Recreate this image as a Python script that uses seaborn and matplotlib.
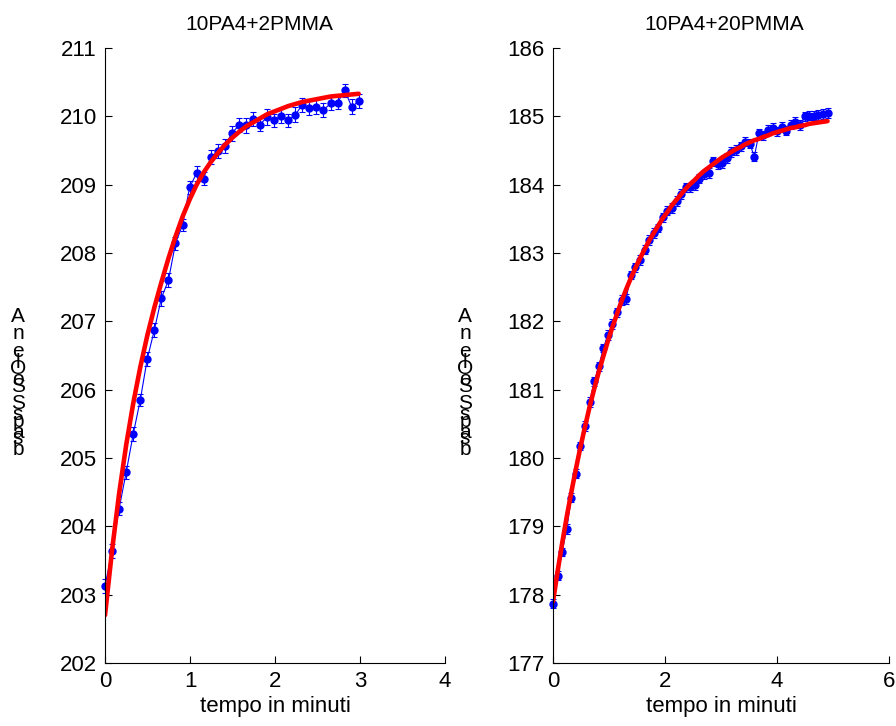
import matplotlib
matplotlib.use("Agg")
import matplotlib.pyplot as plt
import seaborn as sns

# dati: 10PA4+2PMMA
t_2pmma = [0.000, 0.083, 0.166, 0.249, 0.332, 0.415, 0.497, 0.580, 0.663, 0.746,
           0.829, 0.912, 0.995, 1.078, 1.161, 1.244, 1.326, 1.409, 1.492, 1.575,
           1.658, 1.741, 1.824, 1.907, 1.990, 2.073, 2.155, 2.238, 2.321, 2.404,
           2.487, 2.570, 2.653, 2.736, 2.819, 2.902, 2.984]
y_2pmma = [203.13, 203.64, 204.26, 204.79, 205.35, 205.85, 206.45, 206.87, 207.34, 207.60,
           208.14, 208.41, 208.96, 209.17, 209.09, 209.40, 209.49, 209.57, 209.75, 209.87,
           209.87, 209.96, 209.88, 209.99, 209.94, 210.01, 209.94, 210.02, 210.17, 210.12,
           210.14, 210.09, 210.19, 210.20, 210.38, 210.14, 210.22]
err_2pmma = [0.10, 0.10, 0.09, 0.10, 0.10, 0.09, 0.10, 0.10, 0.11, 0.10,
             0.10, 0.09, 0.10, 0.11, 0.10, 0.10, 0.10, 0.10, 0.11, 0.10,
             0.11, 0.10, 0.10, 0.11, 0.10, 0.11, 0.10, 0.11, 0.10, 0.10,
             0.11, 0.10, 0.10, 0.10, 0.10, 0.11, 0.10]
fit_2pmma = [202.70, 203.65, 204.48, 205.19, 205.80, 206.33, 206.79, 207.20, 207.57, 207.92,
             208.24, 208.53, 208.78, 209.00, 209.18, 209.33, 209.46, 209.58, 209.68, 209.77,
             209.85, 209.91, 209.97, 210.03, 210.07, 210.11, 210.15, 210.18, 210.21, 210.23,
             210.25, 210.27, 210.29, 210.30, 210.31, 210.32, 210.33]

# dati: 10PA4+20PMMA
t_20pmma = [0.000, 0.082, 0.163, 0.245, 0.327, 0.409, 0.490, 0.572, 0.654, 0.735,
            0.817, 0.899, 0.980, 1.062, 1.144, 1.226, 1.307, 1.389, 1.471, 1.552,
            1.634, 1.716, 1.797, 1.879, 1.961, 2.043, 2.124, 2.206, 2.288, 2.369,
            2.451, 2.533, 2.614, 2.696, 2.778, 2.860, 2.941, 3.023, 3.105, 3.186,
            3.268, 3.350, 3.431, 3.513, 3.595, 3.677, 3.758, 3.840, 3.922, 4.003,
            4.085, 4.167, 4.248, 4.330, 4.412, 4.494, 4.575, 4.657, 4.739, 4.820,
            4.902]
y_20pmma = [177.87, 178.28, 178.63, 178.96, 179.42, 179.77, 180.17, 180.47, 180.82, 181.12,
            181.34, 181.61, 181.80, 181.96, 182.13, 182.31, 182.33, 182.68, 182.79, 182.90,
            183.05, 183.19, 183.29, 183.37, 183.52, 183.62, 183.66, 183.76, 183.86, 183.96,
            183.96, 183.99, 184.09, 184.15, 184.17, 184.34, 184.30, 184.31, 184.39, 184.48,
            184.51, 184.56, 184.63, 184.60, 184.41, 184.75, 184.72, 184.80, 184.83, 184.78,
            184.85, 184.79, 184.88, 184.92, 184.87, 185.00, 185.01, 185.01, 185.02, 185.03,
            185.05]
err_20pmma = [0.07, 0.07, 0.06, 0.07, 0.07, 0.07, 0.06, 0.07, 0.07, 0.07,
              0.07, 0.06, 0.07, 0.07, 0.07, 0.07, 0.07, 0.06, 0.07, 0.07,
              0.07, 0.07, 0.07, 0.06, 0.07, 0.07, 0.07, 0.07, 0.07, 0.07,
              0.07, 0.07, 0.07, 0.07, 0.07, 0.07, 0.07, 0.07, 0.07, 0.07,
              0.07, 0.07, 0.07, 0.07, 0.07, 0.07, 0.07, 0.07, 0.07, 0.07,
              0.07, 0.07, 0.07, 0.07, 0.07, 0.07, 0.07, 0.07, 0.07, 0.07,
              0.07]
fit_20pmma = [177.90, 178.34, 178.75, 179.14, 179.50, 179.84, 180.16, 180.46, 180.75, 181.01,
              181.26, 181.49, 181.71, 181.92, 182.11, 182.30, 182.47, 182.63, 182.78, 182.92,
              183.05, 183.18, 183.29, 183.40, 183.51, 183.60, 183.70, 183.78, 183.86, 183.94,
              184.01, 184.07, 184.14, 184.20, 184.25, 184.30, 184.35, 184.40, 184.44, 184.48,
              184.52, 184.55, 184.59, 184.62, 184.65, 184.67, 184.70, 184.72, 184.75, 184.77,
              184.79, 184.81, 184.83, 184.84, 184.86, 184.87, 184.89, 184.90, 184.91, 184.92,
              184.93]

titles = ["10PA4+2PMMA", "10PA4+20PMMA"]
x_ticks = [[0, 1, 2, 3, 4], [0, 2, 4, 6]]
y_lims = [(202, 211), (177, 186)]

sns.set_style("ticks")
plt.rcParams['font.family'] = ['Liberation Sans', 'DejaVu Sans']
plt.rcParams['text.color'] = 'black'
plt.rcParams['axes.labelcolor'] = 'black'
plt.rcParams['xtick.color'] = 'black'
plt.rcParams['ytick.color'] = 'black'
plt.rcParams['xtick.direction'] = 'in'
plt.rcParams['ytick.direction'] = 'in'

fig = plt.figure(figsize=(8.96, 7.26), dpi=100)
ax1 = fig.add_axes([0.1172, 0.0868, 0.3795, 0.8471])
ax2 = fig.add_axes([0.6172, 0.0868, 0.375, 0.8471])

datasets = [(t_2pmma, y_2pmma, err_2pmma, fit_2pmma),
            (t_20pmma, y_20pmma, err_20pmma, fit_20pmma)]
title_x = [0.455, 0.51]

for i, ax in enumerate([ax1, ax2]):
    t, y, err, fit = datasets[i]
    ax.errorbar(t, y, yerr=err, fmt='none', ecolor='blue', elinewidth=0.8,
                capsize=2.5, capthick=0.8, clip_on=False)
    sns.lineplot(x=t, y=y, ax=ax, color='blue', linewidth=0.8, marker='o',
                 markersize=6, markeredgewidth=0, sort=False, clip_on=False)
    sns.lineplot(x=t, y=fit, ax=ax, color='red', linewidth=3.3, sort=False)

    ax.set_xlim(x_ticks[i][0], x_ticks[i][-1])
    ax.set_ylim(*y_lims[i])
    ax.set_xticks(x_ticks[i])
    ax.set_yticks(range(y_lims[i][0], y_lims[i][1] + 1))
    ax.tick_params(labelsize=16, length=5, width=0.8, pad=6)
    ax.set_title(titles[i], fontsize=15, pad=13, x=title_x[i], color='black')
    ax.set_xlabel('tempo in minuti', fontsize=16, labelpad=3)
    sns.despine(ax=ax)
    for s in ['left', 'bottom']:
        ax.spines[s].set_color('black')
        ax.spines[s].set_linewidth(0.8)

# etichetta y impilata (caratteri sovrapposti come nell'originale)
for xf in [18 / 896, 465 / 896]:
    fig.text(xf, 0.48, "A\nn\ne\nO\nS\nS\np\ns", fontsize=15, ha='center',
             va='center', linespacing=0.9)
    fig.text(xf, 0.465, "\n\nl\no\n\ns\na\nb", fontsize=15, ha='center',
             va='center', linespacing=0.9)

fig.savefig('out.png', dpi=100)
